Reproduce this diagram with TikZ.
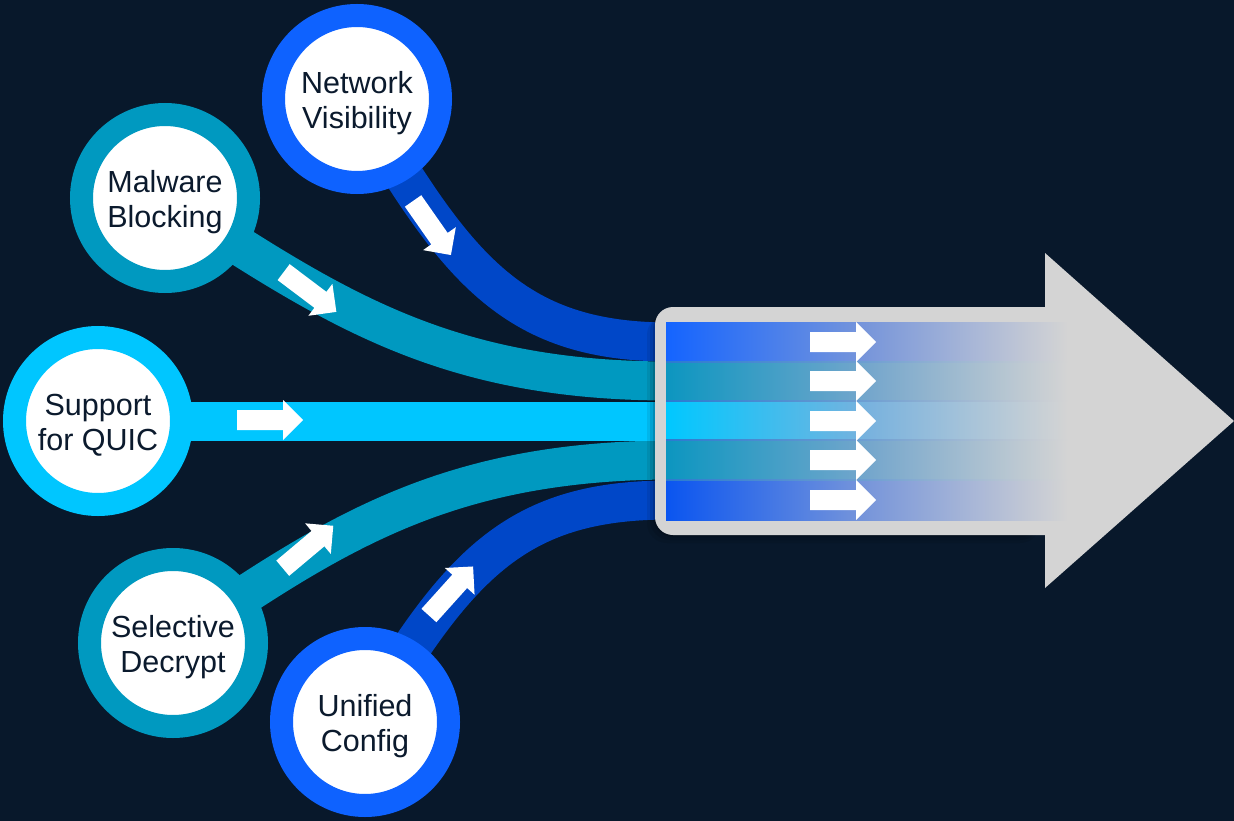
\documentclass[tikz,border=0pt]{standalone}
\usepackage{fontspec}
\setmainfont{Liberation Sans}
\definecolor{bg}{HTML}{08182B}
\definecolor{ink}{HTML}{0B1A2D}
\definecolor{ringblue}{HTML}{0E62FF}
\definecolor{bandblue}{HTML}{0047C8}
\definecolor{tealband}{HTML}{0099C0}
\definecolor{cyanband}{HTML}{00C6FF}
\definecolor{boxgrey}{HTML}{D4D4D4}
\definecolor{sblue}{HTML}{1464FF}
\definecolor{sblueb}{HTML}{0A55F0}
\definecolor{steal}{HTML}{0C96C0}
\definecolor{scyan}{HTML}{00C8FF}
\definecolor{mblue}{HTML}{7896DA}
\definecolor{mteal}{HTML}{74A6CC}
\definecolor{mcyan}{HTML}{78B2DE}
\definecolor{sepblue}{HTML}{2A7BD0}
\usetikzlibrary{calc}
\tikzset{
  band/.style={line width=39pt},
  ring/.style={circle, fill=white, line width=23pt, minimum size=167pt,
    inner sep=0pt},
  ringtext/.style={align=center, text=ink, inner sep=0pt,
    font=\fontsize{30.5}{35}\selectfont},
  flowarrow/.pic={\fill[white] (-33,-10) -- (13,-10) -- (13,-20) -- (33,0)
    -- (13,20) -- (13,10) -- (-33,10) -- cycle;}
}
\begin{document}
\begin{tikzpicture}[x=1pt,y=-1pt]
\fill[bg] (0,0) rectangle (1234,821);
\useasboundingbox (0,0) rectangle (1234,821);

% circle centres and band end points at the box
\coordinate (nvc) at (357,99);
\coordinate (mbc) at (165,198);
\coordinate (sqc) at (98,421);
\coordinate (sdc) at (173,643);
\coordinate (ucc) at (365,722);
\coordinate (e1) at (670,342);
\coordinate (e2) at (670,381);
\coordinate (e3) at (670,421);
\coordinate (e4) at (670,460);
\coordinate (e5) at (670,500);

% flow bands
\draw[band, tealband] (mbc) .. controls (330,305) and (440,381) .. (e2);
\draw[band, tealband] (sdc) .. controls (330,537) and (440,461) .. (e4);
\draw[band, cyanband] (sqc) -- (e3);
\draw[band, bandblue] (nvc) .. controls (455,265) and (510,342) .. (e1);
\draw[band, bandblue] (ucc) .. controls (460,560) and (520,500) .. (e5);

% direction arrows on the bands
\pic[rotate=-55] at (432,228) {flowarrow};
\pic[rotate=-37] at (310,292) {flowarrow};
\pic at (270,420) {flowarrow};
\pic[rotate=40] at (308,547) {flowarrow};
\pic[rotate=48] at (451,591) {flowarrow};

% feature circles and their labels
\node[ring, draw=ringblue] (nv) at (nvc) {};
\node[ring, draw=tealband] (mb) at (mbc) {};
\node[ring, draw=cyanband] (sq) at (sqc) {};
\node[ring, draw=tealband] (sd) at (sdc) {};
\node[ring, draw=ringblue] (uc) at (ucc) {};
\node[ringtext] (nvt) at ([yshift=-4pt]nv.center) {Network\\Visibility};
\node[ringtext] (mbt) at ([yshift=-4pt]mb.center) {Malware\\Blocking};
\node[ringtext] (sqt) at ([yshift=-4pt]sq.center) {Support\\for QUIC};
\node[ringtext] (sdt) at ([yshift=-4pt]sd.center) {Selective\\Decrypt};
\node[ringtext] (uct) at ([yshift=-4pt]uc.center) {Unified\\Config};

% soft shadow under the box
\foreach \s/\o in {8/0.08,5/0.10,2/0.14}
  \fill[black, opacity=\o, rounded corners=20pt]
    (655-\s,307+\s) rectangle (1040,535+\s);

% big grey arrow
\fill[boxgrey, rounded corners=18pt] (655,307) rectangle (1070,535);
\fill[boxgrey] (1045,253) -- (1234,421) -- (1045,588) -- cycle;

% fading stripes inside the box (middle colour set last so it is kept)
\foreach \y/\c/\m in {322/sblue/mblue, 362/steal/mteal, 401/scyan/mcyan,
                      440/steal/mteal, 480/sblueb/mblue}
  \shade[left color=\c, right color=boxgrey, middle color=\m]
    (666,\y) rectangle (1068,\y+40);
\foreach \y in {362,401,440,480}
  \shade[left color=sepblue, right color=boxgrey, middle color=sepblue!60!boxgrey]
    (666,\y-0.8) rectangle (1068,\y+0.8);
\foreach \y in {342,381,421,460,500}
  \pic at (843,\y) {flowarrow};
\end{tikzpicture}
\end{document}
